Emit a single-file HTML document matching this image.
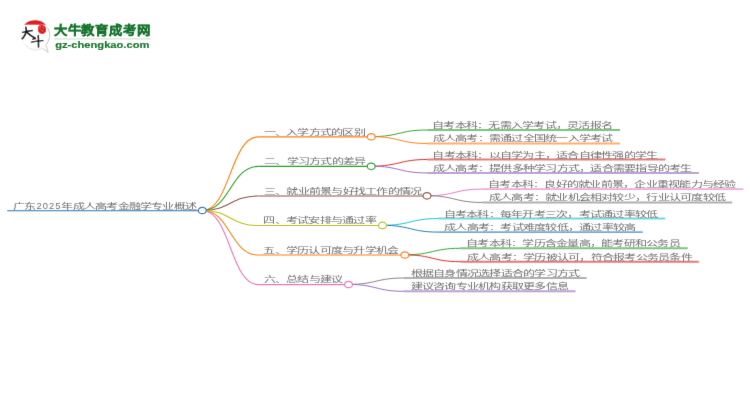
<!DOCTYPE html>
<html lang="zh-CN"><head><meta charset="utf-8"><title>广东2025年成人高考金融学专业概述</title>
<style>
html,body{margin:0;padding:0;background:#fff;width:750px;height:410px;overflow:hidden}
svg{position:absolute;left:0;top:0;display:block}
.t text{font-family:"Liberation Sans",sans-serif;font-size:7.5px;fill:#6e6e6e}
.l path{fill:none}
.c ellipse{fill:#fff}
</style></head><body>
<svg width="750" height="410" viewBox="0 0 750 410">
<defs><filter id="bl" filterUnits="userSpaceOnUse" x="0" y="0" width="750" height="410"><feConvolveMatrix order="3" kernelMatrix="0.00524 0.06192 0.00524 0.06192 0.73137 0.06192 0.00524 0.06192 0.00524" divisor="1" edgeMode="none" preserveAlpha="false"/></filter></defs>
<g filter="url(#bl)">
<g id="logo">
<circle cx="35.4" cy="35" r="14.4" fill="#fff" stroke="#ececec" stroke-width="0.7"/>
<path d="M47.6,27.6 A14.4,14.4 0 0 1 45.6,45.2" fill="none" stroke="#c4c4c4" stroke-width="0.9"/>
<path d="M42.6,48.4 L48.2,52.3 L46.2,45.6" fill="#fff" stroke="#bdbdbd" stroke-width="0.8" stroke-linejoin="round"/>
<path d="M42.4,48.6 A14.4,14.4 0 0 1 25.5,45.5" fill="none" stroke="#e0e0e0" stroke-width="0.7"/>
<path d="M24.1,24.7 A15.5,15.5 0 0 1 45.9,24.7 Z" fill="#e41f23"/>
<path d="M39.2,25.4 C42,24.6 45.6,25.2 46,28.2 C46.4,31 45.6,33.6 42.6,33.9 C39.6,34.2 38,32.4 37.9,29.6 C37.8,27.2 38.2,25.9 39.2,25.4 Z" fill="#e3151b"/>
<path d="M39.6,26.6 L41.2,26.4 M39.4,28.4 L40.8,29.4 M42.8,27.2 L43.6,28.6 M41.6,30.6 L43.2,31.2" stroke="#f6a0a0" stroke-width="0.7" fill="none"/>
<g fill="none" stroke="#111" stroke-linecap="round" stroke-linejoin="round">
<path d="M22.7,32.4 C25.5,31.6 29.5,30.9 32.3,30.6" stroke-width="1.5"/>
<path d="M25.9,27.4 C26.6,29.2 26.6,31.2 25.6,33.6 C24.8,35.5 23.6,37.2 22.3,38.6" stroke-width="1.7"/>
<path d="M27.0,32.4 C29.2,34.6 32.2,36.8 35.0,38.0" stroke-width="1.8"/>
<path d="M34.8,38.0 L32.6,39.3 L35.6,38.8" stroke-width="1.1"/>
<path d="M31.5,42.1 C35,41.5 39.5,40.9 43.0,40.6" stroke-width="1.4"/>
<path d="M38.3,35.6 C38.5,39.5 38.5,43.5 38.5,47.0" stroke-width="1.6"/>
</g>
</g>
<text x="53.6" y="35.3" font-family="Liberation Sans, sans-serif" font-weight="bold" font-size="12.5" fill="#18742d" stroke="#18742d" stroke-width="0.35" textLength="97.6" lengthAdjust="spacingAndGlyphs">大牛教育成考网</text>
<line x1="54.3" y1="38.8" x2="150.5" y2="38.8" stroke="#d4e4d7" stroke-width="1.3"/>
<text x="55.2" y="47.7" font-family="Liberation Sans, sans-serif" font-weight="bold" font-size="8.5" fill="#18742d" stroke="#18742d" stroke-width="0.15" textLength="94.2" lengthAdjust="spacingAndGlyphs">gz-chengkao.com</text>

</g>
<g filter="url(#bl)">
<g class="l">
<path d="M7.20,210.65H202.30" stroke="#1f77b4" stroke-width="1.05" stroke-opacity="1"/>
<path d="M202.30,210.50C230.30,210.50 230.30,136.85 258.30,136.85" stroke="#ff7f0e" stroke-width="1.1" stroke-opacity="1"/>
<path d="M258.30,136.85H371.25" stroke="#ff7f0e" stroke-width="1.1" stroke-opacity="1"/>
<path d="M371.25,136.65C399.23,136.65 399.23,130.00 427.20,130.00" stroke="#2ca02c" stroke-width="1.0" stroke-opacity="0.95"/>
<path d="M427.20,130.00H620.00" stroke="#2ca02c" stroke-width="1.9" stroke-opacity="0.62"/>
<path d="M371.25,136.65C399.23,136.65 399.23,143.50 427.20,143.50" stroke="#ff7f0e" stroke-width="1.0" stroke-opacity="0.95"/>
<path d="M427.20,143.50H620.00" stroke="#ff7f0e" stroke-width="1.9" stroke-opacity="0.62"/>
<path d="M202.30,210.50C230.30,210.50 230.30,166.40 258.30,166.40" stroke="#2ca02c" stroke-width="1.1" stroke-opacity="1"/>
<path d="M258.30,166.40H371.20" stroke="#2ca02c" stroke-width="1.1" stroke-opacity="1"/>
<path d="M371.20,166.20C399.20,166.20 399.20,159.50 427.20,159.50" stroke="#d62728" stroke-width="1.0" stroke-opacity="0.95"/>
<path d="M427.20,159.50H665.40" stroke="#d62728" stroke-width="1.9" stroke-opacity="0.62"/>
<path d="M371.20,166.20C399.20,166.20 399.20,172.95 427.20,172.95" stroke="#9467bd" stroke-width="1.0" stroke-opacity="0.95"/>
<path d="M427.20,172.95H698.90" stroke="#9467bd" stroke-width="1.9" stroke-opacity="0.62"/>
<path d="M202.30,210.50C230.30,210.50 230.30,195.95 258.30,195.95" stroke="#8c564b" stroke-width="1.1" stroke-opacity="1"/>
<path d="M258.30,195.95H427.00" stroke="#8c564b" stroke-width="1.1" stroke-opacity="1"/>
<path d="M427.00,195.75C454.80,195.75 454.80,189.10 482.60,189.10" stroke="#e377c2" stroke-width="1.0" stroke-opacity="0.95"/>
<path d="M482.60,189.10H743.20" stroke="#e377c2" stroke-width="1.9" stroke-opacity="0.62"/>
<path d="M427.00,195.75C454.80,195.75 454.80,202.50 482.60,202.50" stroke="#7f7f7f" stroke-width="1.0" stroke-opacity="0.95"/>
<path d="M482.60,202.50H732.20" stroke="#7f7f7f" stroke-width="1.9" stroke-opacity="0.62"/>
<path d="M202.30,210.50C230.30,210.50 230.30,225.50 258.30,225.50" stroke="#bcbd22" stroke-width="1.1" stroke-opacity="1"/>
<path d="M258.30,225.50H382.50" stroke="#bcbd22" stroke-width="1.1" stroke-opacity="1"/>
<path d="M382.50,225.30C410.35,225.30 410.35,218.55 438.20,218.55" stroke="#17becf" stroke-width="1.0" stroke-opacity="0.95"/>
<path d="M438.20,218.55H665.20" stroke="#17becf" stroke-width="1.9" stroke-opacity="0.62"/>
<path d="M382.50,225.30C410.35,225.30 410.35,232.10 438.20,232.10" stroke="#1f77b4" stroke-width="1.0" stroke-opacity="0.95"/>
<path d="M438.20,232.10H642.70" stroke="#1f77b4" stroke-width="1.9" stroke-opacity="0.62"/>
<path d="M202.30,210.50C230.30,210.50 230.30,255.05 258.30,255.05" stroke="#ff7f0e" stroke-width="1.1" stroke-opacity="1"/>
<path d="M258.30,255.05H404.85" stroke="#ff7f0e" stroke-width="1.1" stroke-opacity="1"/>
<path d="M404.85,254.85C432.62,254.85 432.62,248.30 460.40,248.30" stroke="#2ca02c" stroke-width="1.0" stroke-opacity="0.95"/>
<path d="M460.40,248.30H687.70" stroke="#2ca02c" stroke-width="1.9" stroke-opacity="0.62"/>
<path d="M404.85,254.85C432.62,254.85 432.62,261.70 460.40,261.70" stroke="#d62728" stroke-width="1.0" stroke-opacity="0.95"/>
<path d="M460.40,261.70H698.80" stroke="#d62728" stroke-width="1.9" stroke-opacity="0.62"/>
<path d="M202.30,210.50C230.30,210.50 230.30,284.60 258.30,284.60" stroke="#e377c2" stroke-width="1.1" stroke-opacity="1"/>
<path d="M258.30,284.60H348.50" stroke="#e377c2" stroke-width="1.1" stroke-opacity="1"/>
<path d="M348.50,284.40C376.10,284.40 376.10,278.00 403.70,278.00" stroke="#7f7f7f" stroke-width="1.0" stroke-opacity="0.95"/>
<path d="M403.70,278.00H586.60" stroke="#7f7f7f" stroke-width="1.9" stroke-opacity="0.62"/>
<path d="M348.50,284.40C376.10,284.40 376.10,291.30 403.70,291.30" stroke="#9467bd" stroke-width="1.0" stroke-opacity="0.95"/>
<path d="M403.70,291.30H575.50" stroke="#9467bd" stroke-width="1.9" stroke-opacity="0.62"/>
</g>
<g class="t" transform="scale(1.0)">
<text x="13.10" y="208.55" textLength="22.46" lengthAdjust="spacingAndGlyphs">广东</text>
<text x="36.50" y="208.55" style="font-size:9.30px" textLength="24.00" lengthAdjust="spacing">2025</text>
<text x="61.45" y="208.55" textLength="134.76" lengthAdjust="spacingAndGlyphs">年成人高考金融学专业概述</text>
<text x="263.65" y="134.70" textLength="101.25" lengthAdjust="spacingAndGlyphs">一、入学方式的区别</text>
<text x="432.20" y="128.05" textLength="180.00" lengthAdjust="spacingAndGlyphs">自考本科：无需入学考试，灵活报名</text>
<text x="432.55" y="141.15" textLength="180.00" lengthAdjust="spacingAndGlyphs">成人高考：需通过全国统一入学考试</text>
<text x="264.00" y="164.25" textLength="101.25" lengthAdjust="spacingAndGlyphs">二、学习方式的差异</text>
<text x="432.30" y="157.55" textLength="225.00" lengthAdjust="spacingAndGlyphs">自考本科：以自学为主，适合自律性强的学生</text>
<text x="432.85" y="171.00" textLength="258.75" lengthAdjust="spacingAndGlyphs">成人高考：提供多种学习方式，适合需要指导的考生</text>
<text x="263.90" y="193.80" textLength="157.50" lengthAdjust="spacingAndGlyphs">三、就业前景与好找工作的情况</text>
<text x="488.00" y="187.00" textLength="247.50" lengthAdjust="spacingAndGlyphs">自考本科：良好的就业前景，企业重视能力与经验</text>
<text x="488.75" y="200.30" textLength="236.25" lengthAdjust="spacingAndGlyphs">成人高考：就业机会相对较少，行业认可度较低</text>
<text x="263.40" y="223.35" textLength="112.50" lengthAdjust="spacingAndGlyphs">四、考试安排与通过率</text>
<text x="443.50" y="216.60" textLength="213.75" lengthAdjust="spacingAndGlyphs">自考本科：每年开考三次，考试通过率较低</text>
<text x="444.15" y="230.15" textLength="191.25" lengthAdjust="spacingAndGlyphs">成人高考：考试难度较低，通过率较高</text>
<text x="263.40" y="252.90" textLength="135.00" lengthAdjust="spacingAndGlyphs">五、学历认可度与升学机会</text>
<text x="466.10" y="246.20" textLength="213.75" lengthAdjust="spacingAndGlyphs">自考本科：学历含金量高，能考研和公务员</text>
<text x="466.85" y="259.60" textLength="225.00" lengthAdjust="spacingAndGlyphs">成人高考：学历被认可，符合报考公务员条件</text>
<text x="263.50" y="282.45" textLength="78.75" lengthAdjust="spacingAndGlyphs">六、总结与建议</text>
<text x="410.55" y="275.80" textLength="168.75" lengthAdjust="spacingAndGlyphs">根据自身情况选择适合的学习方式</text>
<text x="410.55" y="289.10" textLength="157.50" lengthAdjust="spacingAndGlyphs">建议咨询专业机构获取更多信息</text>
</g>
<g class="c">
<ellipse cx="371.25" cy="136.75" rx="3.95" ry="3.2" stroke="#ff7f0e" stroke-width="1.25"/>
<ellipse cx="371.20" cy="166.30" rx="3.95" ry="3.2" stroke="#2ca02c" stroke-width="1.25"/>
<ellipse cx="427.00" cy="195.85" rx="3.95" ry="3.2" stroke="#8c564b" stroke-width="1.25"/>
<ellipse cx="382.50" cy="225.40" rx="3.95" ry="3.2" stroke="#bcbd22" stroke-width="1.25"/>
<ellipse cx="404.85" cy="254.95" rx="3.95" ry="3.2" stroke="#ff7f0e" stroke-width="1.25"/>
<ellipse cx="348.50" cy="284.50" rx="3.95" ry="3.2" stroke="#e377c2" stroke-width="1.25"/>
<ellipse cx="202.30" cy="210.50" rx="3.95" ry="3.2" stroke="#1f77b4" stroke-width="1.25"/>
</g>
</g>
</svg>
</body></html>
